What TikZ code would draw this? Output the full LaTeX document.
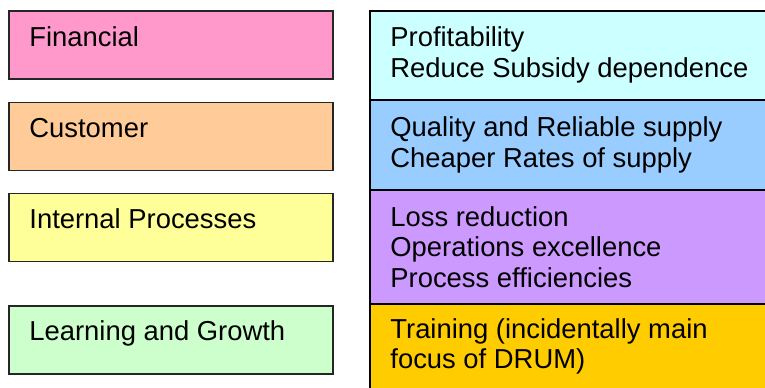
\documentclass[tikz,border=0pt]{standalone}
\usepackage{fontspec}
\setmainfont{Liberation Sans}
\usetikzlibrary{positioning}

\definecolor{finpink}{HTML}{FF99CC}
\definecolor{cuspeach}{HTML}{FFCC99}
\definecolor{intyellow}{HTML}{FFFF99}
\definecolor{lrngreen}{HTML}{CCFFCC}
\definecolor{profcyan}{HTML}{CCFFFF}
\definecolor{qualblue}{HTML}{99CCFF}
\definecolor{lossviolet}{HTML}{CC99FF}
\definecolor{trngold}{HTML}{FFCC00}

\tikzset{
  persp/.style={draw=black!85, line width=0.75pt, inner sep=0pt, outer sep=0pt,
    minimum width=162pt, minimum height=34pt},
  goal/.style={draw=black, line width=1pt, inner sep=0pt, outer sep=0pt,
    minimum width=210pt},
  % anchored on the baseline of the last line
  txt/.style={font=\fontsize{13.7}{15.35}\selectfont, align=left,
    inner sep=0pt, anchor=base west},
}

\begin{document}
\begin{tikzpicture}[x=0.5pt,y=-0.5pt]

\useasboundingbox (0,0) rectangle (765,387);
\clip (0,0) rectangle (765,387);

% perspectives
\node[persp,fill=finpink,anchor=north west]     (fin) at (9,11) {};
\node[persp,fill=cuspeach,below=11.75pt of fin]  (cus) {};
\node[persp,fill=intyellow,below=11.5pt of cus]  (int) {};
\node[persp,fill=lrngreen,below=22.25pt of int]  (lrn) {};

\node[txt] (finT) at ([shift={(10pt,-17.5pt)}]fin.north west) {Financial};
\node[txt] (cusT) at ([shift={(10pt,-17.5pt)}]cus.north west) {Customer};
\node[txt] (intT) at ([shift={(10pt,-17.25pt)}]int.north west) {Internal Processes};
\node[txt] (lrnT) at ([shift={(10pt,-17.25pt)}]lrn.north west) {Learning and Growth};

% objectives, stacked
\node[goal,fill=profcyan,minimum height=44.5pt,anchor=north west] (prof) at (370,11) {};
\node[goal,fill=qualblue,minimum height=45pt,below=0pt of prof]     (qual) {};
\node[goal,fill=lossviolet,minimum height=57pt,below=0pt of qual]   (loss) {};
\node[goal,fill=trngold,minimum height=50pt,below=0pt of loss]      (trn) {};

\node[txt] (profT) at ([shift={(10pt,-33.1pt)}]prof.north west)
  {Profitability\\Reduce Subsidy dependence};
\node[txt] (qualT) at ([shift={(10pt,-33.6pt)}]qual.north west)
  {Quality and Reliable supply\\Cheaper Rates of supply};
\node[txt] (lossT) at ([shift={(10pt,-48.7pt)}]loss.north west)
  {Loss reduction\\Operations excellence\\Process efficiencies};
\node[txt] (trnT) at ([shift={(10pt,-32.35pt)}]trn.north west)
  {Training (incidentally main\\focus of DRUM)};

\end{tikzpicture}
\end{document}
